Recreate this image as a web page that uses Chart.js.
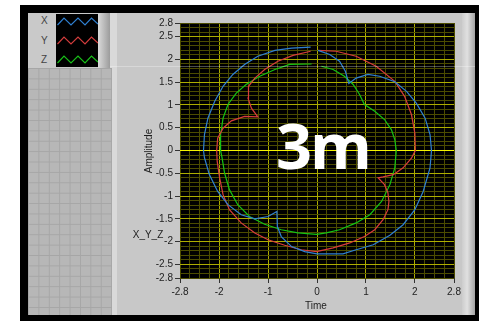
<!DOCTYPE html>
<html>
<head>
<meta charset="utf-8">
<script src="https://cdn.jsdelivr.net/npm/chart.js@4.4.0/dist/chart.umd.min.js"></script>
<style>
  html, body { margin: 0; padding: 0; background: #fff; }
  #page { position: relative; width: 479px; height: 321px; overflow: hidden;
          font-family: "Liberation Sans", Arial, sans-serif; color: #1e1e1e; }
  .abs { position: absolute; }
  #frame { left: 20px; top: 5px; width: 459px; height: 316px; background: #000; }
  #legendBg { left: 28px; top: 13px; width: 82px; height: 55px; background: #c9c9c9; }
  #legendBox { left: 56px; top: 14px; width: 42px; height: 53px; background: #000; }
  #legendBar { left: 98px; top: 13px; width: 12px; height: 55px;
               background: linear-gradient(to right, #dadada, #9c9c9c); }
  #cells { left: 28px; top: 68px; width: 84px; height: 247px; background-color: #b7b7b7;
           background-image: linear-gradient(to right, #a6a6a6 1px, transparent 1px),
                             linear-gradient(to bottom, #a6a6a6 1px, transparent 1px);
           background-size: 10.4px 10.4px; }
  #panel { left: 110px; top: 13px; width: 365px; height: 302px; background: #c8c8c8; }
  #panelLeft { left: 110px; top: 13px; width: 7px; height: 302px; background: #d9d9d9; }
  #panelRight { left: 462px; top: 13px; width: 13px; height: 302px;
                background: linear-gradient(to right, #cdcdcd, #e0e0e0 40%, #a4a4a4); }
  .lg { font-size: 10px; color: #444; left: 41px; }
  #chart { left: 0; top: 0; z-index: 1; }
  #glare { left: 110px; top: 66px; width: 365px; height: 1px; background: rgba(255,255,255,0.3); z-index: 2; }
  .axt { font-size: 10px; z-index: 2; white-space: nowrap; }
  #big { left: 276px; top: 113px; font-family: "Open Sans", sans-serif; font-weight: 700;
         font-size: 63px; line-height: 64px; color: #fff; letter-spacing: -2px; z-index: 3; }
</style>
</head>
<body>
<div id="page">
  <div id="frame" class="abs"></div>
  <div id="panel" class="abs"></div>
  <div id="panelLeft" class="abs"></div>
  <div id="panelRight" class="abs"></div>
  <div id="legendBg" class="abs"></div>
  <div id="cells" class="abs"></div>
  <div id="legendBox" class="abs">
    <svg width="42" height="53">
      <polyline points="1.5,11 8,4 15,11 22,4 29,11 35.5,4 42,10" fill="none" stroke="#2f7fd0" stroke-width="1.2"/>
      <polyline points="1.5,30 8,23 15,30 22,23 29,30 35.5,23 42,29" fill="none" stroke="#d23c3c" stroke-width="1.2"/>
      <polyline points="1.5,49 8,42 15,49 22,42 29,49 35.5,42 42,48" fill="none" stroke="#18c018" stroke-width="1.2"/>
    </svg>
  </div>
  <div id="legendBar" class="abs"></div>
  <div class="abs lg" style="top:15px">X</div>
  <div class="abs lg" style="top:35px">Y</div>
  <div class="abs lg" style="top:54px">Z</div>

  <canvas id="chart" class="abs" width="479" height="321"></canvas>
  <div id="glare" class="abs"></div>

  <div class="abs axt" style="left:148px;top:151px;transform:translate(-50%,-50%) rotate(-90deg);">Amplitude</div>
  <div class="abs axt" style="left:148px;top:234px;transform:translate(-50%,-50%);">X_Y_Z</div>
  <div class="abs axt" style="left:316px;top:305px;transform:translate(-50%,-50%);">Time</div>
  <div id="big" class="abs">3m</div>
</div>

<script>
// values (Time on x, Amplitude on y)
const X_time = [0.02, 0.26, 0.46, 0.58, 0.65, 0.80, 1.04, 1.28, 1.59, 1.83, 2.03, 2.21, 2.31, 2.34,
  2.31, 2.17, 2.00, 1.76, 1.49, 1.15, 0.80, 0.53, 0.00, -0.25, -0.52, -0.73, -0.81, -0.82,
  -1.00, -1.27, -1.55, -1.82, -2.03, -2.20, -2.30, -2.32, -2.30, -2.23, -2.09, -1.92, -1.72,
  -1.48, -1.21, -0.86, -0.52, -0.13];
const X_amp = [2.20, 2.11, 1.96, 1.74, 1.47, 1.59, 1.67, 1.63, 1.51, 1.30, 1.04, 0.71, 0.35, 0.00,
  -0.38, -0.90, -1.30, -1.63, -1.86, -2.07, -2.18, -2.27, -2.27, -2.22, -2.11, -1.89, -1.67, -1.34,
  -1.45, -1.50, -1.41, -1.19, -0.90, -0.53, -0.16, 0.00, 0.35, 0.71, 1.08, 1.41, 1.67,
  1.89, 2.07, 2.20, 2.25, 2.27];

const Y_time = [0.02, 0.39, 0.80, 1.21, 1.59, 1.79, 1.93, 2.00, 2.01, 1.93, 1.76, 1.56, 1.35, 1.25,
  1.38, 1.45, 1.47, 1.45, 1.35, 1.18, 0.97, 0.67, 0.33, -0.01, -0.32, -0.66, -1.00, -1.27,
  -1.55, -1.79, -1.92, -1.99, -2.04, -2.05, -2.03, -1.92, -1.75, -1.48, -1.21, -1.34, -1.41,
  -1.40, -1.27, -1.07, -0.80, -0.49, -0.13];
const Y_amp = [2.20, 2.18, 2.07, 1.85, 1.52, 1.19, 0.79, 0.38, 0.00, -0.17, -0.38, -0.53, -0.58, -0.60,
  -0.75, -0.93, -1.12, -1.30, -1.52, -1.74, -1.89, -2.03, -2.14, -2.22, -2.18, -2.08, -1.96, -1.81,
  -1.59, -1.30, -0.97, -0.60, -0.24, 0.00, 0.27, 0.49, 0.65, 0.75, 0.74, 0.93, 1.15,
  1.41, 1.59, 1.78, 1.96, 2.09, 2.18];

const Z_time = [0.09, 0.33, 0.56, 0.74, 0.87, 0.97, 1.18, 1.38, 1.52, 1.59, 1.62, 1.59, 1.49, 1.32,
  1.08, 0.80, 0.46, 0.19, -0.01, -0.39, -0.73, -1.07, -1.38, -1.62, -1.79, -1.89, -1.94, -1.97,
  -1.97, -1.92, -1.82, -1.65, -1.45, -1.17, -0.86, -0.56, -0.11];
const Z_amp = [1.85, 1.78, 1.63, 1.45, 1.23, 1.01, 0.86, 0.68, 0.46, 0.24, 0.00, -0.38, -0.75, -1.12,
  -1.41, -1.59, -1.74, -1.81, -1.84, -1.81, -1.74, -1.62, -1.45, -1.19, -0.86, -0.49, -0.16, 0.00,
  0.35, 0.71, 1.01, 1.26, 1.45, 1.63, 1.78, 1.89, 1.90];

const seriesNames = ["X", "Y", "Z"];
const xTickLabels = [-2.8, -2, -1, 0, 1, 2, 2.8];
const yTickLabels = [-2.8, -2.5, -2, -1.5, -1, -0.5, 0, 0.5, 1, 1.5, 2, 2.5, 2.8];
const axisMin = -2.8, axisMax = 2.8;

const MAJOR = "#adad00", MINOR = "#4c4c00", ZERO = "#f4f400";

function toPoints(xs, ys) {
  return xs.map((x, i) => ({ x: x, y: ys[i] }));
}

// every grid line between the limits, in tenths so the values stay exact
function gridTicks(stepTenths) {
  const out = [];
  for (let i = Math.round(axisMin * 10); i <= Math.round(axisMax * 10); i += stepTenths) out.push({ value: i / 10 });
  return out;
}

const near = (a, b) => Math.abs(a - b) < 1e-6;
const hasLabel = (list, v) => list.some((l) => near(l, v));

const plotBg = {
  id: "plotBg",
  beforeDraw(chart) {
    const { ctx, chartArea: a } = chart;
    ctx.save();
    ctx.fillStyle = "#000";
    ctx.fillRect(a.left, a.top, a.right - a.left, a.bottom - a.top);
    ctx.restore();
  }
};

const colors = ["#2f80d2", "#d83c3c", "#14c414"];
const data = [toPoints(X_time, X_amp), toPoints(Y_time, Y_amp), toPoints(Z_time, Z_amp)];

new Chart(document.getElementById("chart"), {
  type: "scatter",
  data: {
    datasets: data.map((pts, i) => ({
      label: seriesNames[i],
      data: pts,
      showLine: true,
      borderColor: colors[i],
      borderWidth: 1.2,
      pointRadius: 0,
      tension: 0,
      fill: false
    }))
  },
  options: {
    responsive: false,
    animation: false,
    devicePixelRatio: 1,
    layout: { padding: { left: 0, top: 23, right: 25, bottom: 0 } },
    plugins: { legend: { display: false }, tooltip: { enabled: false } },
    scales: {
      x: {
        type: "linear", min: axisMin, max: axisMax,
        afterBuildTicks: (s) => { s.ticks = gridTicks(2); },
        afterFit: (s) => { s.height = 43; },
        border: { display: false },
        grid: {
          color: (c) => near(c.tick.value, Math.round(c.tick.value)) && Math.abs(c.tick.value) < 2.7 ? MAJOR : MINOR,
          tickColor: (c) => hasLabel(xTickLabels, c.tick.value) ? "#333" : "rgba(0,0,0,0)",
          tickLength: 5
        },
        ticks: {
          autoSkip: false, maxRotation: 0, padding: 3,
          color: "#1e1e1e", font: { family: "Liberation Sans", size: 10 },
          callback: (v) => hasLabel(xTickLabels, v) ? String(Math.round(v * 10) / 10) : ""
        }
      },
      y: {
        type: "linear", min: axisMin, max: axisMax,
        afterBuildTicks: (s) => { s.ticks = gridTicks(1); },
        afterFit: (s) => { s.width = 180; },
        border: { display: false },
        grid: {
          color: (c) => {
            const v = c.tick.value;
            if (near(v, 0)) return ZERO;
            return near(v * 2, Math.round(v * 2)) && Math.abs(v) < 2.7 ? MAJOR : MINOR;
          },
          tickColor: (c) => hasLabel(yTickLabels, c.tick.value) ? "#333" : "rgba(0,0,0,0)",
          tickLength: 5
        },
        ticks: {
          autoSkip: false, padding: 2,
          color: "#1e1e1e", font: { family: "Liberation Sans", size: 10 },
          callback: (v) => hasLabel(yTickLabels, v) ? String(Math.round(v * 10) / 10) : ""
        }
      }
    }
  },
  plugins: [plotBg]
});
</script>
</body>
</html>
